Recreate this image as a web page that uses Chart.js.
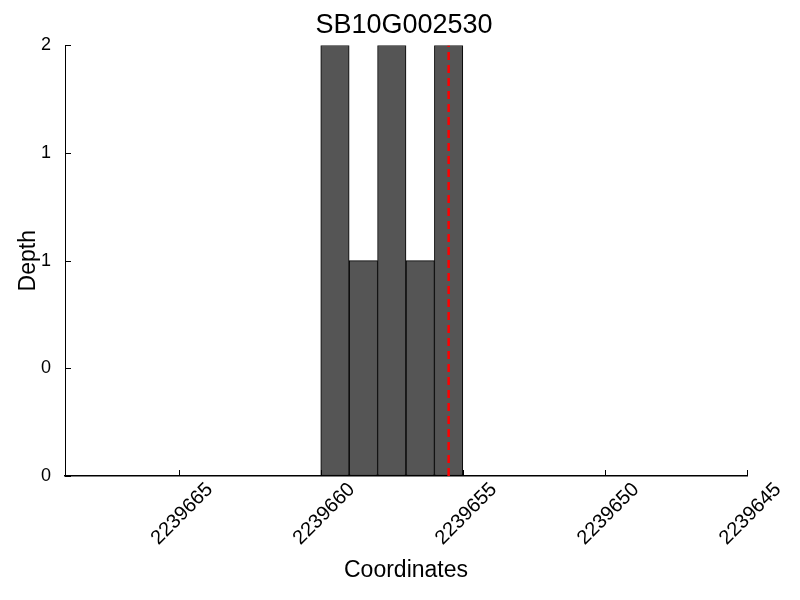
<!DOCTYPE html>
<html>
<head>
<meta charset="utf-8">
<script src="https://cdn.jsdelivr.net/npm/chart.js@4/dist/chart.umd.min.js"></script>
<style>
  html, body { margin: 0; padding: 0; background: #fff; }
  #wrap { width: 800px; height: 600px; }
</style>
</head>
<body>
<div id="wrap"><canvas id="c" width="800" height="600"></canvas></div>
<script>
const titleText = 'SB10G002530';
const binStarts = [2239660, 2239659, 2239658, 2239657, 2239656];
const depths = [2, 1, 2, 1, 2];
const markerPos = 2239655.5;
const xTicks = [2239665, 2239660, 2239655, 2239650, 2239645];
const xMin = 2239645, xMax = 2239669;
const yTickValues = [0, 0.5, 1, 1.5, 2];
const yTickLabels = ['0', '0', '1', '1', '2'];

const FONT = '"Liberation Sans", Arial, sans-serif';

const barData = binStarts.map((s, i) => ({ x: s - 0.5, y: depths[i] }));

const innerTicks = {
  id: 'innerTicks',
  afterDraw(chart) {
    const ctx = chart.ctx;
    const xs = chart.scales.x, ys = chart.scales.y;
    const a = chart.chartArea;
    ctx.save();
    ctx.strokeStyle = '#000';
    ctx.lineWidth = 1;
    ctx.beginPath();
    xTicks.forEach(v => {
      const px = Math.round(xs.getPixelForValue(v)) + 0.5;
      ctx.moveTo(px, a.bottom);
      ctx.lineTo(px, a.bottom - 6);
    });
    yTickValues.forEach(v => {
      const py = Math.round(ys.getPixelForValue(v)) + 0.5;
      ctx.moveTo(a.left, py);
      ctx.lineTo(a.left + 6, py);
    });
    ctx.stroke();
    ctx.restore();
  }
};

new Chart(document.getElementById('c'), {
  data: {
    datasets: [
      {
        type: 'bar',
        data: barData,
        backgroundColor: '#555555',
        borderColor: '#000000',
        borderWidth: 1,
        borderSkipped: false,
        barPercentage: 1.0,
        categoryPercentage: 1.0,
        order: 2
      },
      {
        type: 'line',
        data: [{ x: markerPos, y: 0 }, { x: markerPos, y: 2 }],
        borderColor: '#ff0000',
        borderWidth: 2.5,
        borderDash: [8, 5],
        pointRadius: 0,
        fill: false,
        order: 1
      }
    ]
  },
  options: {
    responsive: false,
    animation: false,
    layout: { padding: { left: 8, right: 0, top: 0, bottom: 0 } },
    plugins: {
      legend: { display: false },
      tooltip: { enabled: false },
      title: {
        display: true,
        text: titleText,
        color: '#000',
        font: { family: FONT, size: 27, weight: 'normal' },
        padding: { top: 9, bottom: 4 }
      }
    },
    scales: {
      x: {
        type: 'linear',
        reverse: true,
        min: xMin,
        max: xMax,
        offset: false,
        afterBuildTicks(scale) { scale.ticks = xTicks.map(v => ({ value: v })); },
        afterFit(scale) { scale.height = 124; scale.paddingRight = 53; scale.paddingLeft = 0; },
        ticks: {
          autoSkip: false,
          maxRotation: 45,
          minRotation: 45,
          color: '#000',
          padding: 2,
          labelOffset: 31,
          font: { family: FONT, size: 20 },
          callback: (v) => String(v)
        },
        grid: { display: true, drawOnChartArea: false, drawTicks: false },
        border: { display: true, color: '#000', width: 1.5 },
        title: {
          display: true,
          text: 'Coordinates',
          color: '#000',
          font: { family: FONT, size: 23 },
          padding: { top: 4, bottom: 16 }
        }
      },
      y: {
        type: 'linear',
        min: 0,
        max: 2,
        afterBuildTicks(scale) { scale.ticks = yTickValues.map(v => ({ value: v })); },
        afterFit(scale) { scale.width = 57; },
        ticks: {
          color: '#000',
          padding: 14,
          font: { family: FONT, size: 18 },
          callback: (v, i) => yTickLabels[i]
        },
        grid: { display: true, drawOnChartArea: false, drawTicks: false },
        border: { display: true, color: '#000', width: 1 },
        title: {
          display: true,
          text: 'Depth',
          color: '#000',
          font: { family: FONT, size: 23 },
          padding: { top: 7, bottom: 2 }
        }
      }
    }
  },
  plugins: [innerTicks]
});
</script>
</body>
</html>
